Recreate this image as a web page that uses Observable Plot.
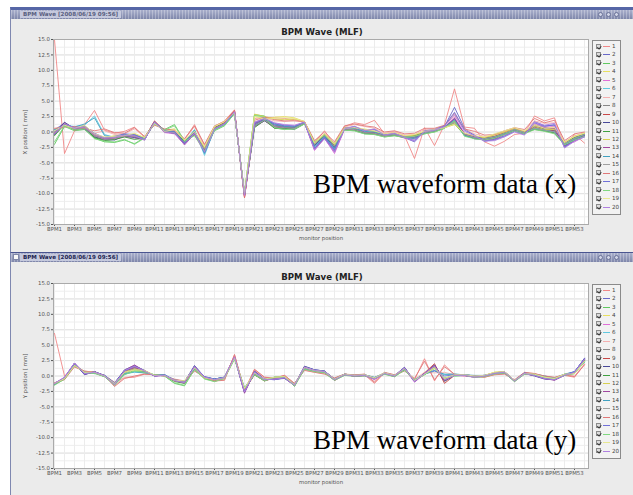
<!DOCTYPE html>
<html><head><meta charset="utf-8">
<script src="https://cdn.jsdelivr.net/npm/d3@7"></script>
<script src="https://cdn.jsdelivr.net/npm/@observablehq/plot@0.6"></script>
<style>
html,body{margin:0;padding:0;background:#fff;width:633px;height:495px;overflow:hidden;position:relative;font-family:"DejaVu Sans",sans-serif;}
.abs{position:absolute;}
.win{position:absolute;left:10px;width:623px;background:#ebebeb;border-left:1px solid #7f88b0;box-sizing:border-box;}
.tbar{position:absolute;left:11px;width:622px;height:9px;
 background:repeating-linear-gradient(90deg, rgba(255,255,255,0.28) 0 1px, rgba(0,0,0,0) 1px 3px), linear-gradient(#aab0cc,#7e86aa);}
.ttext{position:absolute;left:9px;top:1px;height:7px;line-height:7px;font-size:5.6px;font-weight:bold;padding:0 3px;background:#c5c9dd;white-space:nowrap;}
.btn{position:absolute;top:2px;width:5px;height:5px;border-radius:50%;border:1px solid #6a7298;box-sizing:border-box;background:#d0d4e6;}
.ctitle{position:absolute;left:11px;width:622px;text-align:center;font-size:8.6px;font-weight:bold;color:#222;}
.legend{position:absolute;left:592px;width:29px;border:1px solid #8a8a8a;box-sizing:border-box;background:#f2f2f2;}
.lrow{position:absolute;left:0;height:8px;width:28px;}
.cb{position:absolute;left:3px;top:1.5px;width:5px;height:5px;border:1px solid #8c8c8c;box-sizing:border-box;background:#dcdcdc;}
.cb:after{content:"";position:absolute;left:1px;top:0px;width:1.5px;height:2.5px;border:solid #333;border-width:0 0.8px 0.8px 0;transform:rotate(40deg);}
.ll{position:absolute;left:10px;top:4px;width:7px;height:1px;}
.lt{position:absolute;left:19px;top:0;font-size:5.6px;line-height:8px;color:#444;}
.big{position:absolute;left:313px;font-family:"Liberation Serif","Times New Roman",serif;font-size:27px;line-height:27px;color:#000;white-space:nowrap;}
</style></head>
<body>
<script>
// ---------------- data ----------------
const bpmIndex = d3.range(1, 55);                 // BPM1 .. BPM54
const xTickValues = d3.range(1, 54, 2);           // BPM1, BPM3, ... BPM53
const yTickValues = [-15, -12.5, -10, -7.5, -5, -2.5, 0, 2.5, 5, 7.5, 10, 12.5, 15];
const seriesNames = ["1","2","3","4","5","6","7","8","9","10","11","12","13","14","15","16","17","18","19","20"];
const seriesColors = ["#f08888","#6868c8","#60c860","#e8e060","#e070d8","#60c8e0","#f4b0b0","#888888","#c84848","#484898",
                      "#40a040","#d8d050","#a048a0","#40a0c0","#a0a0a0","#e07878","#7070d8","#80d880","#e8e890","#b080e0"];

// X position [mm], one row per series (1..20), 54 monitors each
const xPosition = [
[15.0,-3.5,0.2,1.2,3.5,0.3,-0.2,0.1,0.8,-0.9,1.3,0.3,0.4,-1.2,1.2,-2.2,0.9,1.8,3.6,-10.7,2.2,2.4,2.3,2.2,2.0,1.6,-1.6,0.2,-2.0,0.9,1.5,1.2,1.9,-0.3,0.0,-0.6,-4.3,0.7,-2.2,1.2,7.0,0.8,0.6,-1.6,-2.3,-1.5,-0.4,-0.2,2.6,1.8,2.3,-2.3,-0.4,-1.8],
[0.3,1.5,0.6,0.9,-0.3,-1.0,-0.8,-0.4,-0.5,-1.3,1.7,0.2,0.0,-1.9,0.1,-3.2,0.5,1.5,3.3,-10.2,1.4,2.1,1.3,1.0,0.9,1.6,-2.6,-0.8,-2.9,0.6,0.8,0.2,0.3,-0.5,-0.3,-0.9,-1.6,0.1,0.3,0.9,4.0,0.6,-0.6,-1.5,-1.2,-0.6,0.2,-0.3,1.7,1.0,1.1,-2.5,-1.4,-0.8],
[-2.0,0.9,0.2,0.4,-1.0,-1.6,-1.7,-1.3,-1.9,-0.9,1.4,0.4,1.2,-1.4,-0.5,-3.0,0.2,1.0,3.0,-9.8,2.8,2.6,0.6,0.5,0.4,1.3,-1.8,-0.6,-2.0,0.3,0.2,-0.3,-0.4,-0.8,-0.6,-0.9,-0.8,-0.3,0.0,0.6,1.9,-0.6,-1.0,-1.2,-1.0,-0.3,0.3,-0.2,0.5,0.2,-0.2,-2.0,-1.2,-0.6],
[0.0,1.2,0.5,1.0,-0.4,-0.9,-0.6,-0.7,-0.3,-1.0,1.5,0.0,0.3,-1.5,0.0,-2.5,0.8,1.6,3.1,-10.0,2.6,2.0,2.4,2.5,2.3,1.7,-1.9,-0.4,-2.2,0.6,0.7,0.4,0.0,-0.4,-0.2,-0.7,-0.5,0.0,0.4,0.7,1.4,-0.3,-0.7,-0.9,-0.4,0.1,0.6,0.1,1.1,0.5,0.6,-1.8,-0.8,-0.3],
[-0.5,1.4,0.3,0.6,-0.8,-1.3,-1.2,-0.8,-1.0,-1.2,1.6,-0.1,-0.3,-2.0,-0.4,-3.4,0.4,1.2,3.3,-10.4,0.8,1.8,0.7,0.6,0.5,1.5,-3.0,-1.0,-3.5,0.4,0.3,-0.2,-0.3,-0.7,-0.5,-1.0,-1.2,-0.2,0.1,0.7,2.4,-0.2,-0.9,-1.3,-1.0,-0.4,0.3,-0.2,1.4,0.8,0.9,-2.1,-1.6,-0.7],
[0.2,1.1,0.9,1.1,2.6,-0.4,-0.9,-0.5,-0.6,-1.1,1.5,0.2,0.1,-1.6,0.4,-3.8,0.5,1.3,3.1,-10.1,1.2,2.2,1.0,0.8,0.7,1.5,-2.3,-0.7,-2.6,0.5,0.5,0.0,-0.1,-0.5,-0.4,-0.8,-0.9,-0.1,0.2,0.8,2.0,-0.5,-0.8,-1.0,-0.7,-0.2,0.4,-0.1,0.7,0.4,0.1,-1.9,-1.1,-0.5],
[0.5,1.0,0.7,0.8,-0.2,0.2,-0.4,-0.3,0.5,-0.8,1.2,0.4,0.2,-1.3,0.9,-2.4,0.8,1.6,3.4,-10.5,1.6,2.3,1.8,1.7,1.9,1.6,-1.5,-0.3,-1.8,0.8,1.2,0.9,0.6,-0.2,0.1,-0.5,-0.4,0.4,0.5,1.0,2.6,0.4,-0.3,-0.7,-0.6,0.0,0.5,0.2,1.8,1.4,1.5,-1.6,-0.6,-0.1],
[-0.3,1.4,0.4,0.6,-0.7,-1.3,-1.2,-0.7,-0.8,-1.1,1.7,0.0,-0.2,-1.8,-0.3,-2.9,0.6,1.4,3.3,-10.3,0.9,1.9,0.8,0.6,0.6,1.5,-2.1,-0.6,-2.4,0.4,0.3,-0.2,-0.3,-0.7,-0.5,-0.8,-0.7,-0.1,0.2,0.8,1.5,-0.5,-1.0,-1.2,-0.9,-0.3,0.3,-0.1,0.5,0.2,-0.1,-2.0,-1.1,-0.4],
[-0.1,1.5,0.3,0.7,-0.5,-1.1,-1.0,-0.5,-0.6,-1.0,1.8,0.2,-0.1,-1.6,-0.1,-2.7,0.7,1.5,3.5,-10.6,1.1,2.0,0.9,0.8,0.7,1.6,-1.9,-0.4,-2.2,0.5,0.4,-0.1,-0.2,-0.6,-0.4,-0.7,-0.6,0.0,0.3,0.9,1.7,-0.3,-0.8,-1.0,-0.7,-0.1,0.5,0.0,0.8,0.4,0.2,-1.8,-0.9,-0.3],
[-0.4,1.6,0.5,0.5,-0.8,-1.2,-1.3,-0.6,-0.9,-1.2,1.5,0.1,-0.2,-1.9,-0.2,-3.0,0.5,1.3,3.2,-10.2,1.0,1.8,0.9,0.7,0.5,1.4,-2.2,-0.6,-2.5,0.6,0.4,-0.2,-0.1,-0.6,-0.3,-0.8,-0.8,-0.2,0.2,0.7,2.2,-0.4,-1.1,-1.2,-0.9,-0.3,0.3,-0.2,0.9,0.5,0.3,-2.2,-1.3,-0.6],
[-0.6,1.2,0.4,0.8,-0.9,-1.4,-1.2,-0.8,-1.2,-1.0,1.6,0.2,0.0,-1.5,-0.4,-2.6,0.7,1.4,3.0,-10.0,0.7,1.9,0.6,0.5,0.8,1.4,-1.8,-0.5,-2.1,0.4,0.3,-0.1,-0.3,-0.6,-0.5,-0.9,-0.6,-0.1,0.1,0.8,1.3,-0.5,-0.9,-1.1,-0.8,-0.2,0.4,-0.1,0.4,0.2,-0.1,-1.7,-0.9,-0.3],
[0.1,1.1,0.6,0.9,-0.5,-1.0,-0.9,-0.5,-0.4,-0.9,1.4,0.3,0.5,-1.4,0.2,-2.6,0.9,1.7,3.0,-9.9,2.9,2.5,2.1,2.0,2.1,1.7,-1.7,-0.3,-1.9,0.7,0.6,0.3,0.1,-0.4,-0.3,-0.7,-0.5,0.1,0.3,0.7,1.2,-0.2,-0.7,-0.9,-0.5,0.0,0.5,0.0,0.9,0.4,0.4,-1.7,-0.7,-0.2],
[-0.2,1.3,0.5,0.7,-0.6,-1.1,-1.0,-0.6,-0.7,-1.3,1.7,0.1,-0.1,-2.1,-0.3,-3.1,0.5,1.4,3.2,-10.4,1.3,2.1,1.1,0.9,0.7,1.5,-2.8,-1.0,-3.2,0.5,0.5,0.0,-0.2,-0.6,-0.4,-0.9,-1.0,-0.1,0.2,0.8,2.1,-0.3,-0.8,-1.3,-1.1,-0.4,0.2,-0.2,1.2,0.7,0.6,-2.3,-1.4,-0.6],
[0.4,1.0,0.8,1.3,2.3,-0.6,-0.8,-0.4,-0.5,-1.0,1.4,0.2,0.0,-1.7,0.3,-3.5,0.4,1.2,3.1,-10.1,1.1,2.0,1.2,0.9,0.8,1.5,-2.4,-0.8,-2.7,0.6,0.6,0.1,0.0,-0.5,-0.4,-0.8,-1.1,-0.1,0.2,0.8,1.9,-0.6,-0.9,-1.1,-0.8,-0.3,0.4,-0.1,0.6,0.3,0.0,-2.0,-1.0,-0.4],
[-0.1,1.3,0.4,0.7,-0.6,-1.2,-1.1,-0.6,-0.7,-1.1,1.6,0.1,-0.1,-1.7,-0.2,-2.8,0.6,1.4,3.2,-10.3,1.0,1.9,0.9,0.7,0.6,1.5,-2.0,-0.5,-2.3,0.5,0.4,-0.1,-0.2,-0.6,-0.4,-0.8,-0.7,-0.1,0.2,0.8,1.6,-0.4,-0.9,-1.1,-0.8,-0.2,0.4,-0.1,0.6,0.3,0.0,-1.9,-1.0,-0.4],
[0.6,0.8,0.9,0.6,0.2,0.5,-0.1,-0.2,0.7,-0.7,1.1,0.5,0.3,-1.1,1.0,-2.0,1.0,1.7,3.5,-10.6,1.9,2.4,2.0,1.8,1.8,1.7,-1.4,0.0,-1.6,1.0,1.3,1.0,0.8,0.0,0.2,-0.3,-0.2,0.6,0.6,1.1,3.0,0.5,0.1,-0.5,-0.4,0.2,0.7,0.4,2.2,1.5,1.9,-1.4,-0.3,0.0],
[0.1,1.2,0.7,1.0,-0.2,-0.9,-0.7,-0.3,-0.4,-1.2,1.5,0.3,0.1,-1.8,0.0,-3.3,0.4,1.3,3.2,-10.2,1.5,2.2,1.4,1.1,1.0,1.6,-2.7,-0.9,-3.0,0.6,0.9,0.3,0.4,-0.4,-0.2,-0.9,-1.4,0.2,0.4,1.0,3.2,0.3,-0.5,-1.4,-1.3,-0.7,0.1,-0.4,1.5,0.9,1.2,-2.4,-1.3,-0.7],
[-1.6,1.0,0.3,0.5,-1.1,-1.5,-1.6,-1.2,-2.0,-1.0,1.3,0.3,1.0,-1.5,-0.6,-3.1,0.3,1.1,2.9,-9.9,2.7,2.4,0.7,0.4,0.5,1.3,-1.7,-0.5,-2.0,0.3,0.2,-0.3,-0.4,-0.8,-0.6,-0.9,-0.7,-0.3,0.0,0.6,1.8,-0.7,-1.1,-1.3,-1.0,-0.4,0.2,-0.3,0.4,0.1,-0.3,-2.1,-1.3,-0.7],
[0.2,1.1,0.6,1.1,-0.3,-0.8,-0.7,-0.6,-0.2,-0.9,1.4,0.1,0.4,-1.3,0.1,-2.4,0.9,1.7,3.1,-10.0,2.5,2.1,2.2,2.3,2.2,1.7,-1.8,-0.3,-2.0,0.6,0.7,0.5,0.2,-0.3,-0.1,-0.6,-0.4,0.1,0.4,0.7,1.3,-0.2,-0.6,-0.8,-0.3,0.2,0.7,0.2,1.2,0.6,0.8,-1.7,-0.7,-0.2],
[-0.3,1.4,0.6,0.8,-0.4,-1.0,-0.9,-0.5,-0.6,-1.3,1.6,0.0,-0.2,-2.0,-0.2,-3.2,0.5,1.3,3.3,-10.3,1.6,2.2,1.5,1.2,1.1,1.6,-2.9,-1.1,-3.3,0.5,0.9,0.2,0.5,-0.5,-0.2,-0.9,-1.5,0.1,0.3,0.9,2.8,0.1,-0.6,-1.5,-1.4,-0.8,0.0,-0.5,1.6,1.1,1.4,-2.6,-1.5,-0.8]
];

// Y position [mm], one row per series (1..20), 54 monitors each
const yPosition = [
[6.9,0.0,1.5,0.7,0.5,0.1,-1.0,-0.3,-0.2,0.3,0.2,0.0,-0.5,-0.8,0.9,-0.2,-0.7,-0.5,3.4,-2.4,1.0,-0.2,-0.4,0.1,-1.2,1.1,0.7,0.4,-0.4,0.3,0.1,0.2,-1.2,0.5,0.1,0.9,-0.6,2.8,-0.8,1.8,0.2,0.0,-0.1,-0.2,0.3,0.4,-0.7,0.5,0.4,-0.1,-0.3,0.1,-0.2,1.9],
[-1.2,-0.3,2.0,0.3,0.7,0.1,-1.1,0.9,1.6,0.8,0.0,0.2,-0.7,-0.9,1.5,-0.1,-0.5,-0.2,3.1,-2.6,0.6,-0.5,-0.6,-0.3,-1.4,1.5,1.0,0.8,-0.5,0.3,0.1,0.2,-0.3,0.5,0.1,1.4,-0.9,0.4,1.6,-0.5,0.2,0.2,0.0,0.1,0.5,0.7,-0.7,0.5,0.1,-0.4,-0.6,0.2,0.6,2.9],
[-1.4,-0.5,1.7,0.6,0.5,-0.1,-1.4,0.3,0.9,0.6,0.2,0.0,-1.2,-1.6,1.1,-0.4,-0.9,-0.4,2.8,-2.0,0.2,-0.8,-0.2,-0.1,-1.6,1.2,0.7,0.5,-0.7,0.1,0.0,0.0,-0.4,0.3,-0.1,1.0,-0.7,0.2,1.3,-0.4,0.0,0.1,-0.2,-0.1,0.3,0.5,-0.9,0.3,0.2,-0.2,-0.5,0.1,0.4,2.4],
[-1.3,-0.4,1.8,0.5,0.6,0.0,-1.2,0.6,1.0,0.9,0.1,0.1,-0.8,-0.9,1.4,-0.3,-0.6,-0.3,2.9,-2.1,0.4,-0.6,-0.2,-0.1,-1.5,1.4,0.9,0.7,-0.5,0.3,0.1,0.2,-0.3,0.5,0.1,1.2,-0.8,0.3,1.4,-0.5,0.2,0.2,0.0,0.1,0.6,0.7,-0.7,0.4,0.3,-0.2,-0.4,0.3,0.5,2.5],
[-1.2,-0.2,2.1,0.4,0.6,0.0,-1.5,0.8,1.3,0.8,0.0,0.1,-0.7,-1.2,1.2,-0.3,-0.7,-0.4,3.2,-2.5,0.5,-0.7,-0.4,-0.2,-1.6,1.3,0.8,0.6,-0.7,0.2,0.0,0.0,-0.6,0.4,0.0,1.1,-1.0,0.3,1.7,-0.7,0.1,0.0,-0.2,0.0,0.4,0.6,-0.9,0.4,0.1,-0.4,-0.6,0.2,0.4,2.6],
[-1.4,-0.3,1.8,0.6,0.5,0.1,-1.3,0.4,0.6,0.5,0.2,0.2,-0.7,-0.8,1.2,-0.2,-0.5,-0.2,2.9,-2.0,0.3,-0.6,-0.2,-0.2,-1.4,1.2,0.8,0.6,-0.5,0.2,0.1,0.1,-0.3,0.4,0.1,1.1,-0.6,0.3,0.9,0.2,0.3,0.2,0.0,0.1,0.4,0.5,-0.8,0.5,0.3,0.0,-0.4,0.3,0.6,2.3],
[-1.1,-0.5,1.6,0.8,0.6,0.1,-1.6,-0.2,-0.1,0.4,0.2,0.0,-0.6,-0.9,1.0,-0.2,-0.8,-0.6,3.3,-2.3,0.9,-0.3,-0.3,0.0,-1.3,1.0,0.6,0.4,-0.4,0.2,0.1,0.3,-0.9,0.5,0.2,0.9,-0.5,0.6,0.5,0.6,0.2,0.1,0.0,-0.1,0.2,0.4,-0.7,0.5,0.3,0.0,-0.3,0.2,0.0,2.0],
[-1.3,-0.4,1.9,0.4,0.6,0.0,-1.3,0.6,1.3,0.7,0.1,0.1,-0.8,-1.0,1.3,-0.3,-0.6,-0.3,3.0,-2.2,0.3,-0.7,-0.3,-0.2,-1.5,1.3,0.8,0.6,-0.6,0.2,0.0,0.1,-0.4,0.4,0.0,1.2,-0.8,0.3,1.7,-0.9,0.1,0.1,-0.1,0.0,0.4,0.6,-0.8,0.4,0.2,-0.3,-0.5,0.2,0.5,2.6],
[-1.3,-0.4,2.0,0.5,0.7,0.0,-1.2,0.7,1.4,0.8,0.1,0.1,-0.8,-1.1,1.5,-0.3,-0.6,-0.2,3.1,-2.3,0.2,-0.8,-0.3,-0.2,-1.5,1.4,0.9,0.7,-0.7,0.2,0.0,0.1,-0.4,0.4,0.0,1.3,-0.9,0.5,2.0,-1.2,0.1,0.1,-0.1,0.0,0.5,0.7,-0.8,0.4,0.1,-0.4,-0.6,0.2,0.5,2.7],
[-1.2,-0.3,2.1,0.2,0.7,0.0,-1.2,1.0,1.7,0.9,0.0,0.2,-0.8,-1.0,1.7,-0.2,-0.5,-0.2,3.0,-2.7,0.8,-0.5,-0.5,-0.4,-1.5,1.6,1.0,0.8,-0.5,0.3,0.0,0.1,-0.4,0.4,0.0,1.4,-0.8,0.4,1.8,-0.8,0.1,0.1,-0.1,0.0,0.4,0.6,-0.8,0.4,0.0,-0.5,-0.6,0.1,0.7,2.8],
[-1.3,-0.5,1.8,0.5,0.5,-0.1,-1.3,0.5,1.1,0.7,0.1,0.1,-0.9,-1.2,1.2,-0.4,-0.7,-0.3,2.9,-2.1,0.2,-0.7,-0.3,-0.1,-1.6,1.3,0.8,0.6,-0.6,0.2,0.0,0.1,-0.4,0.4,0.0,1.1,-0.7,0.3,1.5,-0.6,0.1,0.1,-0.1,0.0,0.4,0.5,-0.8,0.4,0.2,-0.3,-0.5,0.2,0.5,2.5],
[-1.2,-0.4,1.8,0.6,0.6,0.0,-1.2,0.7,1.1,0.9,0.1,0.1,-0.8,-0.8,1.4,-0.3,-0.6,-0.3,2.9,-2.0,0.4,-0.6,-0.2,-0.1,-1.4,1.4,0.9,0.7,-0.5,0.3,0.1,0.2,-0.3,0.5,0.1,1.2,-0.8,0.3,1.4,-0.4,0.2,0.2,0.0,0.1,0.6,0.7,-0.7,0.4,0.3,-0.2,-0.4,0.3,0.4,2.4],
[-1.3,-0.3,2.0,0.3,0.7,0.0,-1.4,0.9,1.8,0.8,0.0,0.1,-0.8,-1.1,1.6,-0.2,-0.6,-0.3,3.1,-2.8,0.7,-0.6,-0.5,-0.3,-1.6,1.5,0.9,0.7,-0.6,0.2,0.0,0.1,-0.5,0.4,-0.1,1.3,-0.9,0.4,1.7,-0.7,0.1,0.1,-0.2,0.0,0.4,0.6,-0.8,0.4,0.1,-0.4,-0.7,0.1,0.6,2.7],
[-1.4,-0.3,1.7,0.7,0.5,0.1,-1.2,0.3,0.7,0.5,0.2,0.2,-0.6,-0.9,1.1,-0.2,-0.5,-0.2,2.8,-1.9,0.3,-0.5,-0.2,-0.2,-1.3,1.1,0.8,0.6,-0.4,0.3,0.1,0.2,-0.2,0.4,0.1,1.0,-0.6,0.3,0.8,0.3,0.3,0.2,0.1,0.1,0.4,0.5,-0.7,0.5,0.3,0.0,-0.3,0.3,0.7,2.2],
[-1.3,-0.4,1.9,0.5,0.6,0.0,-1.3,0.5,1.2,0.7,0.1,0.1,-0.8,-1.0,1.3,-0.3,-0.6,-0.3,3.0,-2.2,0.3,-0.7,-0.3,-0.2,-1.5,1.3,0.8,0.6,-0.6,0.2,0.0,0.1,-0.4,0.4,0.0,1.2,-0.8,0.3,1.5,-0.6,0.1,0.1,-0.1,0.0,0.4,0.6,-0.8,0.4,0.2,-0.3,-0.5,0.2,0.5,2.6],
[-1.1,-0.6,1.5,0.8,0.6,0.1,-1.7,-0.4,0.0,0.3,0.2,0.0,-0.6,-0.9,0.8,-0.2,-0.8,-0.7,3.5,-2.4,1.1,-0.2,-0.3,0.1,-1.2,0.9,0.6,0.3,-0.3,0.3,0.2,0.3,-1.0,0.6,0.2,0.8,-0.4,2.4,-0.6,1.5,0.3,0.1,0.0,-0.2,0.2,0.3,-0.6,0.6,0.4,0.0,-0.2,0.2,-0.1,1.8],
[-1.2,-0.3,2.0,0.3,0.7,0.1,-1.1,0.8,1.5,0.9,0.0,0.2,-0.7,-0.9,1.6,-0.1,-0.5,-0.2,3.0,-2.5,0.7,-0.5,-0.6,-0.3,-1.4,1.5,1.0,0.8,-0.5,0.3,0.1,0.2,-0.3,0.5,0.1,1.3,-0.9,0.4,0.9,0.0,0.2,0.2,0.0,0.1,0.5,0.7,-0.7,0.5,0.1,-0.4,-0.6,0.2,0.7,2.8],
[-1.5,-0.5,1.7,0.6,0.4,-0.1,-1.5,0.2,0.8,0.6,0.2,0.0,-1.1,-1.5,1.0,-0.5,-0.9,-0.4,2.7,-2.0,0.2,-0.8,-0.2,-0.1,-1.7,1.1,0.7,0.5,-0.7,0.1,0.0,0.0,-0.4,0.3,-0.1,0.9,-0.7,0.2,1.2,-0.3,0.0,0.1,-0.2,-0.1,0.3,0.5,-0.9,0.3,0.2,-0.2,-0.5,0.1,0.4,2.3],
[-1.2,-0.4,1.7,0.6,0.6,0.0,-1.2,0.6,1.0,0.9,0.1,0.1,-0.7,-0.8,1.3,-0.3,-0.6,-0.3,2.9,-2.0,0.5,-0.5,-0.2,-0.1,-1.4,1.4,0.9,0.7,-0.5,0.3,0.1,0.2,-0.3,0.5,0.1,1.2,-0.7,0.3,1.3,-0.4,0.2,0.2,0.0,0.1,0.6,0.7,-0.7,0.4,0.3,-0.2,-0.4,0.3,0.4,2.4],
[-1.2,-0.2,2.1,0.4,0.6,0.0,-1.4,0.9,1.6,0.8,0.0,0.1,-0.7,-1.1,1.5,-0.2,-0.6,-0.3,3.1,-2.6,0.6,-0.6,-0.5,-0.3,-1.5,1.4,0.9,0.7,-0.6,0.2,0.0,0.1,-0.5,0.4,0.0,1.3,-0.9,0.4,1.6,-0.6,0.1,0.1,-0.2,0.0,0.4,0.6,-0.8,0.4,0.1,-0.4,-0.6,0.1,0.6,2.7]
];

// ---------------- layout helpers ----------------
function el(cls, css, text) {
  const d = document.createElement("div");
  if (cls) d.className = cls;
  Object.assign(d.style, css || {});
  if (text != null) d.textContent = text;
  document.body.appendChild(d);
  return d;
}

function windowChrome(top, height, active) {
  el("win", {top: top + "px", height: height + "px", borderTop: active ? "1px solid #4a5590" : "3px solid #5666a6"});
  const barTop = active ? top + 1 : top + 3;
  const bar = el("tbar", {top: barTop + "px"});
  if (active) {
    const icon = document.createElement("div");
    Object.assign(icon.style, {position: "absolute", left: "2px", top: "1px", width: "6px", height: "6px", background: "#fafafa", border: "1px solid #8088a8", boxSizing: "border-box"});
    bar.appendChild(icon);
  }
  const t = document.createElement("div");
  t.className = "ttext";
  t.textContent = "BPM Wave [2008/06/19 09:56]";
  t.style.color = active ? "#1c2450" : "#5a6080";
  bar.appendChild(t);
  [598, 606, 614].forEach((x, i) => {
    const b = document.createElement("div");
    b.className = "btn";
    b.style.left = (x - 11 + (i === 2 ? 0 : 0)) + "px";
    bar.appendChild(b);
  });
}

function chartPanel(top, wave, yLabel) {
  const rows = wave.flatMap((vals, s) => vals.map((v, i) => ({bpm: bpmIndex[i], value: v, series: seriesNames[s]})));
  const chart = Plot.plot({
    width: 580,
    height: 222,
    marginLeft: 42,
    marginRight: 3,
    marginTop: 15,
    marginBottom: 22,
    style: {fontFamily: "DejaVu Sans, sans-serif", fontSize: "5.4px", color: "#555", background: "transparent", overflow: "visible"},
    x: {domain: [0.9, 54.4]},
    y: {domain: [-15, 15]},
    color: {domain: seriesNames, range: seriesColors},
    marks: [
      Plot.frame({fill: "#fff", stroke: "none"}),
      Plot.gridY({ticks: d3.range(-15, 15.01, 1.25), stroke: "#eeeeee", strokeOpacity: 1}),
      Plot.gridY({ticks: yTickValues, stroke: "#e2e2e2", strokeOpacity: 1}),
      Plot.gridX({ticks: bpmIndex, stroke: "#ececec", strokeOpacity: 1}),
      Plot.axisY({ticks: yTickValues, tickFormat: d => d.toFixed(1), tickSize: 2, tickPadding: 1.5,
                  label: yLabel, labelAnchor: "center", labelArrow: "none", labelOffset: 30}),
      Plot.axisX({ticks: xTickValues, tickFormat: d => "BPM" + d, tickSize: 2, tickPadding: 1,
                  label: "monitor position", labelAnchor: "center", labelArrow: "none", labelOffset: 15}),
      Plot.line(rows, {x: "bpm", y: "value", z: "series", stroke: "series", strokeWidth: 0.9}),
      Plot.frame({stroke: "#aaaaaa"})
    ]
  });
  const holder = el("abs", {left: "11px", top: top + "px"});
  holder.appendChild(chart);
}

function legend(top, height) {
  const box = el("legend", {top: top + "px", height: height + "px"});
  const pitch = (height - 6) / 20;
  seriesNames.forEach((name, i) => {
    const r = document.createElement("div");
    r.className = "lrow";
    r.style.top = (1 + i * pitch) + "px";
    const cb = document.createElement("div"); cb.className = "cb";
    const ln = document.createElement("div"); ln.className = "ll"; ln.style.background = seriesColors[i];
    const tx = document.createElement("div"); tx.className = "lt"; tx.textContent = name;
    r.append(cb, ln, tx);
    box.appendChild(r);
  });
}

// ---------------- top window (x) ----------------
windowChrome(7, 245, false);
el("ctitle", {top: "27px"}, "BPM Wave (MLF)");
chartPanel(24, xPosition, "X position [ mm]");
legend(40, 175);
el("big", {top: "171px"}, "BPM waveform data (x)");

// ---------------- bottom window (y) ----------------
windowChrome(252, 250, true);
el("ctitle", {top: "272px"}, "BPM Wave (MLF)");
chartPanel(268, yPosition, "Y position [ mm]");
legend(284, 175);
el("big", {top: "427px"}, "BPM waveform data (y)");
</script>
</body></html>
